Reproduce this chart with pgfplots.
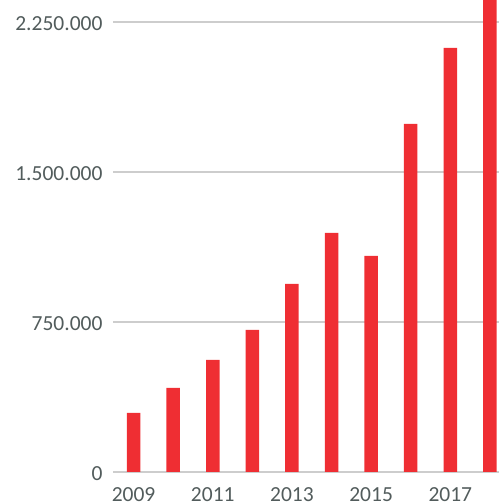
\documentclass[border=0pt]{standalone}
\usepackage{fontspec}
\setmainfont{Carlito}
\usepackage{pgfplots}
\pgfplotsset{compat=1.18}
\definecolor{barred}{HTML}{EF2E33}
\definecolor{gridgray}{HTML}{CDCDCD}
\definecolor{labgray}{HTML}{525C5C}
\begin{document}
\begin{tikzpicture}[x=1pt,y=1pt]
\clip (0,0) rectangle (499,502);
\begin{axis}[
  at={(113pt,30pt)}, anchor=south west,
  scale only axis, width=386pt, height=472pt,
  ybar, bar width=13.5pt,
  xmin=2008.48, xmax=2018.23,
  ymin=0, ymax=2360000,
  axis line style={draw=none},
  xtick={2009,2011,2013,2015,2017},
  xticklabels={2009,2011,2013,2015,2017},
  ytick={0,750000,1500000,2250000},
  yticklabels={0,750.000,1.500.000,2.250.000},
  tick style={draw=none},
  ymajorgrids, grid style={gridgray, line width=2pt},
  ticklabel style={font=\fontsize{21.5}{21.5}\selectfont, text=labgray},
  xticklabel style={yshift=-8pt},
  yticklabel style={xshift=-7pt, yshift=-2pt},
  clip=true,
]
\addplot[fill=barred, draw=none] coordinates {
(2009,295000)
(2010,420000)
(2011,560000)
(2012,710000)
(2013,940000)
(2014,1195000)
(2015,1080000)
(2016,1740000)
(2017,2120000)
(2018,2450000)
};
\end{axis}
\end{tikzpicture}
\end{document}
